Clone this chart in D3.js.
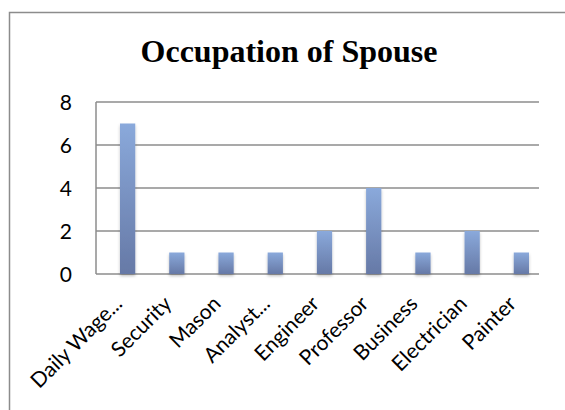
<!DOCTYPE html>
<html>
<head>
<meta charset="utf-8">
<script src="https://cdn.jsdelivr.net/npm/d3@7"></script>
<style>
  body { margin: 0; background: #fff; }
  svg { display: block; }
</style>
</head>
<body>
<script>
const categories = ["Daily Wage...", "Security", "Mason", "Analyst...", "Engineer", "Professor", "Business", "Electrician", "Painter"];
const counts = [7, 1, 1, 1, 2, 4, 1, 2, 1];
const yTicks = [0, 2, 4, 6, 8];

const W = 565, H = 410;
const plot = { left: 96, right: 539, top: 102, bottom: 274 };

const svg = d3.select("body").append("svg")
  .attr("width", W)
  .attr("height", H);

const defs = svg.append("defs");
const grad = defs.append("linearGradient")
  .attr("id", "barGrad")
  .attr("x1", 0).attr("y1", 0).attr("x2", 0).attr("y2", 1);
grad.append("stop").attr("offset", "0%").attr("stop-color", "#8aa9db");
grad.append("stop").attr("offset", "100%").attr("stop-color", "#6679a6");

const shadow = defs.append("filter").attr("id", "shadow")
  .attr("x", "-30%").attr("y", "-10%").attr("width", "160%").attr("height", "130%");
shadow.append("feDropShadow")
  .attr("dx", 0).attr("dy", 2).attr("stdDeviation", 1.5)
  .attr("flood-color", "#000").attr("flood-opacity", 0.25);

// outer chart frame (runs off the page on the right and bottom)
svg.append("rect")
  .attr("x", 9.5).attr("y", 12.5)
  .attr("width", 620).attr("height", 460)
  .attr("fill", "none")
  .attr("stroke", "#8c8c8c")
  .attr("stroke-width", 1.5);

svg.append("text")
  .attr("x", 289).attr("y", 62)
  .attr("text-anchor", "middle")
  .style("font-family", "'Liberation Serif', 'Times New Roman', serif")
  .style("font-weight", "bold")
  .style("font-size", "32px")
  .text("Occupation of Spouse");

const y = d3.scaleLinear().domain([0, 8]).range([plot.bottom, plot.top]);
const x = d3.scaleBand().domain(categories)
  .range([plot.left + 7, plot.right + 7])
  .paddingInner(0.69).paddingOuter(0.345);

// gridlines
svg.append("g")
  .selectAll("line")
  .data(yTicks)
  .join("line")
  .attr("x1", plot.left).attr("x2", plot.right)
  .attr("y1", d => y(d)).attr("y2", d => y(d))
  .attr("stroke", "#8c8c8c")
  .attr("stroke-width", 1.5);

// left axis line
svg.append("line")
  .attr("x1", plot.left).attr("x2", plot.left)
  .attr("y1", plot.top).attr("y2", plot.bottom)
  .attr("stroke", "#8c8c8c")
  .attr("stroke-width", 1.5);

// y labels
svg.append("g")
  .selectAll("text")
  .data(yTicks)
  .join("text")
  .attr("x", 72)
  .attr("y", d => y(d))
  .attr("dy", "0.36em")
  .attr("text-anchor", "end")
  .style("font-family", "Lato, 'Open Sans', sans-serif")
  .style("font-size", "21px")
  .text(d => d);

// bars
svg.append("g")
  .selectAll("rect")
  .data(counts)
  .join("rect")
  .attr("x", (d, i) => x(categories[i]))
  .attr("width", x.bandwidth())
  .attr("y", d => y(d))
  .attr("height", d => y(0) - y(d))
  .attr("fill", "url(#barGrad)")
  .attr("filter", "url(#shadow)");

// category labels
svg.append("g")
  .selectAll("text")
  .data(categories)
  .join("text")
  .attr("transform", d => `translate(${x(d) + x.bandwidth() / 2 - 4},${305}) rotate(-45)`)
  .attr("text-anchor", "end")
  .style("font-family", "Lato, 'Open Sans', sans-serif")
  .style("font-size", "21px")
  .text(d => d);
</script>
</body>
</html>
